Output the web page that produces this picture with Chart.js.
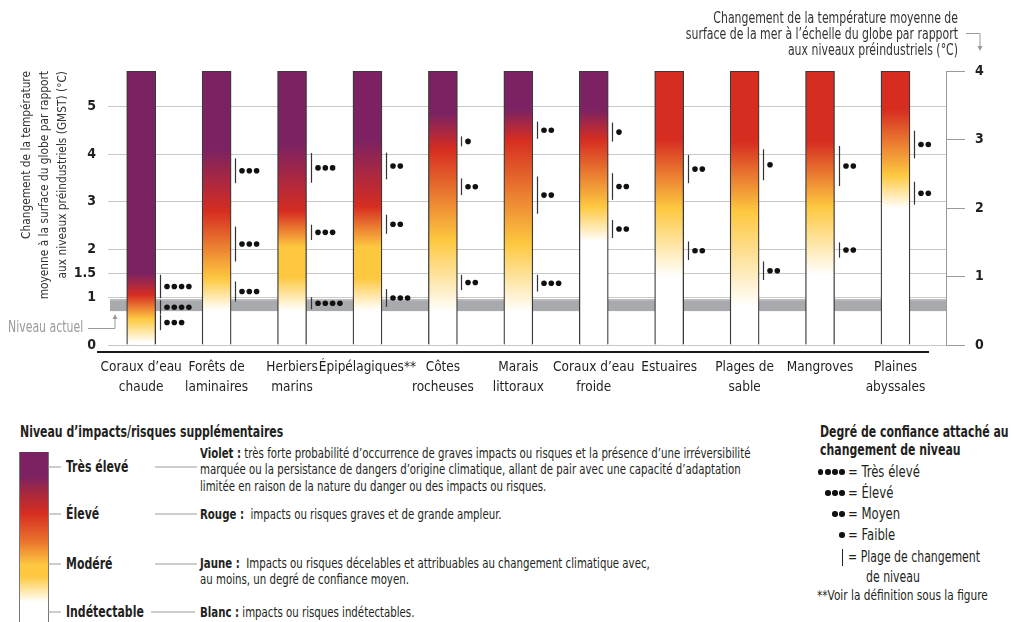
<!DOCTYPE html>
<html>
<head>
<meta charset="utf-8">
<script src="https://cdn.jsdelivr.net/npm/chart.js@4"></script>
<style>
html,body{margin:0;padding:0;background:#fff;}
body{width:1015px;height:622px;position:relative;overflow:hidden;font-family:"DejaVu Sans Condensed","DejaVu Sans",sans-serif;color:#231f20;}
#wrap{position:absolute;left:0;top:0;width:1015px;height:410px;}
.abs{position:absolute;white-space:nowrap;}
.cx{transform:scaleX(0.81);transform-origin:0 50%;}
.cxr{transform:scaleX(0.81);transform-origin:100% 50%;}
.b{font-weight:bold;}
.lvl{font-size:15px;line-height:18px;font-weight:bold;left:66px;}
.desc{font-size:14px;line-height:16.5px;left:200px;}
.row{position:absolute;left:800px;height:20px;line-height:20px;font-size:16px;display:flex;align-items:center;white-space:nowrap;}
.dots{width:45px;display:flex;justify-content:flex-end;gap:1.6px;}
.dot{width:5.6px;height:5.6px;border-radius:50%;background:#111;display:inline-block;}
.rt{display:inline-block;margin-left:3px;transform:scaleX(0.81);transform-origin:0 50%;}
#svg{position:absolute;left:0;top:0;pointer-events:none;}
</style>
</head>
<body>
<div id="wrap"><canvas id="c" width="1015" height="410"></canvas></div>

<!-- right axis title -->
<div class="abs cxr" style="right:57px;top:10px;font-size:15px;line-height:16px;text-align:right;color:#333;">Changement de la température moyenne de<br>surface de la mer à l’échelle du globe par rapport<br>aux niveaux préindustriels (°C)</div>
<!-- present-day label -->
<div class="abs cx" style="left:8px;top:318px;font-size:15px;line-height:18px;color:#9a9a9a;">Niveau actuel</div>

<!-- legend : level of impacts -->
<div class="abs b cx" style="left:20px;top:423px;font-size:15px;line-height:18px;">Niveau d’impacts/risques supplémentaires</div>
<div class="abs" style="left:19px;top:452px;width:28px;height:172px;border-left:1px solid #777;border-right:1px solid #777;background:linear-gradient(to bottom,#7c2262 0px,#7c2262 24px,#a5283f 40px,#d62d20 61px,#e8702c 88px,#fdc840 113px,#fdc840 124px,#fff 150px,#fff 172px);"></div>
<div class="abs lvl cx" style="top:458px;">Très élevé</div>
<div class="abs lvl cx" style="top:505px;">Élevé</div>
<div class="abs lvl cx" style="top:555px;">Modéré</div>
<div class="abs lvl cx" style="top:603px;">Indétectable</div>
<div class="abs desc cx" style="top:444.7px;"><b>Violet :</b> très forte probabilité d’occurrence de graves impacts ou risques et la présence d’une irréversibilité<br>marquée ou la persistance de dangers d’origine climatique, allant de pair avec une capacité d’adaptation<br>limitée en raison de la nature du danger ou des impacts ou risques.</div>
<div class="abs desc cx" style="top:505.7px;"><b>Rouge :</b>&nbsp; impacts ou risques graves et de grande ampleur.</div>
<div class="abs desc cx" style="top:554.7px;"><b>Jaune :</b>&nbsp; Impacts ou risques décelables et attribuables au changement climatique avec,<br>au moins, un degré de confiance moyen.</div>
<div class="abs desc cx" style="top:603.7px;"><b>Blanc :</b> impacts ou risques indétectables.</div>

<!-- legend : confidence -->
<div class="abs b cx" style="left:820px;top:423px;font-size:15px;line-height:18px;">Degré de confiance attaché au<br>changement de niveau</div>
<div class="row" style="top:462px;"><span class="dots"><i class="dot"></i><i class="dot"></i><i class="dot"></i><i class="dot"></i></span><span class="rt">= Très élevé</span></div>
<div class="row" style="top:483px;"><span class="dots"><i class="dot"></i><i class="dot"></i><i class="dot"></i></span><span class="rt">= Élevé</span></div>
<div class="row" style="top:504px;"><span class="dots"><i class="dot"></i><i class="dot"></i></span><span class="rt">= Moyen</span></div>
<div class="row" style="top:525px;"><span class="dots"><i class="dot"></i></span><span class="rt">= Faible</span></div>
<div class="row" style="top:547px;font-size:15px;"><span class="dots"><i style="display:inline-block;width:1.2px;height:17px;background:#222;margin-right:2px;"></i></span><span class="rt">= Plage de changement</span></div>
<div class="abs cx" style="left:866px;top:568px;font-size:15px;line-height:18px;">de niveau</div>
<div class="abs cx" style="left:817px;top:586px;font-size:14.5px;line-height:18px;">**Voir la définition sous la figure</div>

<svg id="svg" width="1015" height="622">
  <g stroke="#9a9a9a" stroke-width="1" fill="none">
    <polyline points="88,328.5 115,328.5 115,318"/>
    <polyline points="966,33.5 980,33.5 980,47"/>
    <line x1="48" y1="467" x2="61" y2="467"/>
    <line x1="48" y1="514" x2="61" y2="514"/>
    <line x1="48" y1="564" x2="61" y2="564"/>
    <line x1="48" y1="612" x2="61" y2="612"/>
    <line x1="155" y1="467" x2="197" y2="467"/>
    <line x1="155" y1="514" x2="197" y2="514"/>
    <line x1="155" y1="564" x2="197" y2="564"/>
    <line x1="151" y1="612" x2="195" y2="612"/>
  </g>
  <g fill="#9a9a9a">
    <polygon points="112.5,319 117.5,319 115,314"/>
    <polygon points="977.5,46 982.5,46 980,51"/>
  </g>
</svg>

<script>
// ---------------- data ----------------
const categories = [
  ['Coraux d’eau', 'chaude'], ['Forêts de', 'laminaires'], ['Herbiers', 'marins'],
  ['Épipélagiques**'], ['Côtes', 'rocheuses'], ['Marais', 'littoraux'],
  ['Coraux d’eau', 'froide'], ['Estuaires'], ['Plages de', 'sable'],
  ['Mangroves'], ['Plaines', 'abyssales']
];
const leftTicks  = [0, 1, 1.5, 2, 3, 4, 5];      // GMST (°C)
const rightTicks = [0, 1, 2, 3, 4];              // SST (°C)
const gmstMax = 5.74;                            // GMST equivalent of SST = 4 °C
const sstMax = 4;
const emberTop = [5.74, 5.74, 5.74, 5.74, 5.74, 5.74, 5.74, 5.74, 5.74, 5.74, 5.74];
const niveauActuel = [0.71, 0.96];

// colour levels of each ember (GMST °C)
const whiteLevel  = [0.05, 0.73, 0.72, 0.73, 0.70, 0.70, 2.17, 1.43, 0.80, 1.47, 2.87];
const yellowLow   = [0.55, 1.40, 1.43, 1.40, 2.20, 2.13, 2.90, 2.87, 2.80, 2.90, 3.56];
const yellowHigh  = [0.55, 1.40, 2.06, 2.06, 2.20, 2.13, 2.90, 2.87, 2.80, 2.90, 3.56];
const redLevel    = [1.05, 2.80, 2.80, 2.90, 4.10, 4.30, 4.30, 4.30, 4.26, 4.26, 4.93];
const purpleLevel = [1.50, 4.10, 4.20, 4.30, 4.85, 4.93, 4.93, null, null, null, null];

// transitions : range + confidence (number of dots)
const trans1From = [0.31, 0.91, 0.75, 0.80, 1.15, 1.12, 2.24, 1.78, 1.36, 1.83, 2.94];
const trans1To   = [0.63, 1.33, 1.00, 1.17, 1.47, 1.47, 2.62, 2.17, 1.75, 2.15, 3.42];
const trans1Conf = [3, 3, 4, 3, 2, 3, 2, 2, 2, 2, 2];
const trans2From = [0.64, 1.75, 2.20, 2.33, 3.14, 2.75, 3.04, 3.39, 3.45, 3.33, 3.91];
const trans2To   = [0.94, 2.48, 2.52, 2.73, 3.49, 3.53, 3.60, 3.98, 4.10, 4.17, 4.49];
const trans2Conf = [4, 3, 3, 2, 2, 2, 2, 2, 1, 2, 2];
const trans3From = [0.98, 3.39, 3.40, 3.47, 4.16, 4.32, 4.26, null, null, null, null];
const trans3To   = [1.47, 3.91, 4.02, 4.03, 4.37, 4.68, 4.66, null, null, null, null];
const trans3Conf = [4, 3, 3, 2, 1, 2, 1, null, null, null, null];

// ---------------- style ----------------
const FONT = '"DejaVu Sans Condensed","DejaVu Sans",sans-serif';
const WHITE = '#ffffff', YELLOW = '#fdc840', RED = '#d62d20', PURPLE = '#7c2262';

function emberFill(c) {
  if (c.type !== 'data') return WHITE;
  const chart = c.chart, y = chart.scales.yL;
  if (!y) return WHITE;
  const i = c.dataIndex, top = emberTop[i];
  const y0 = y.getPixelForValue(0), y1 = y.getPixelForValue(top);
  if (!isFinite(y0) || !isFinite(y1) || y0 === y1) return WHITE;
  const g = chart.ctx.createLinearGradient(0, y0, 0, y1);
  const f = v => Math.min(1, Math.max(0, v / top));
  g.addColorStop(0, WHITE);
  g.addColorStop(f(whiteLevel[i]), WHITE);
  g.addColorStop(f(yellowLow[i]), YELLOW);
  g.addColorStop(f(yellowHigh[i]), YELLOW);
  g.addColorStop(f(redLevel[i]), RED);
  if (purpleLevel[i] != null) { g.addColorStop(f(purpleLevel[i]), PURPLE); g.addColorStop(1, PURPLE); }
  else g.addColorStop(1, RED);
  return g;
}

const embersPlugin = {
  id: 'embers',
  beforeDatasetsDraw(chart) {
    const {ctx, chartArea, scales: {yL}} = chart;
    const yA = yL.getPixelForValue(niveauActuel[1]), yB = yL.getPixelForValue(niveauActuel[0]);
    ctx.save();
    ctx.fillStyle = '#a9aaad';
    ctx.fillRect(chartArea.left + 2, yA, chartArea.right - chartArea.left - 2, yB - yA);
    ctx.fillStyle = '#bdbec0';
    ctx.fillRect(chartArea.left + 2, yA, chartArea.right - chartArea.left - 2, 1.5);
    ctx.restore();
  },
  afterDatasetsDraw(chart) {
    const {ctx, chartArea, scales: {yL}} = chart;
    ctx.save();
    ctx.strokeStyle = '#1a1a1a'; ctx.lineWidth = 2;
    ctx.beginPath();
    ctx.moveTo(chartArea.left - 11, chartArea.bottom + 7);
    ctx.lineTo(chartArea.right - 17, chartArea.bottom + 7);
    ctx.stroke();
    const groups = [[trans1From, trans1To, trans1Conf], [trans2From, trans2To, trans2Conf], [trans3From, trans3To, trans3Conf]];
    const meta = chart.getDatasetMeta(0);
    meta.data.forEach((bar, i) => {
      const lx = Math.round(bar.x + bar.width / 2) + 4.5;
      groups.forEach(([fr, to, cf]) => {
        if (fr[i] == null) return;
        const ya = yL.getPixelForValue(fr[i]), yb = yL.getPixelForValue(to[i]);
        ctx.strokeStyle = '#333'; ctx.lineWidth = 1.2;
        ctx.beginPath(); ctx.moveTo(lx, ya); ctx.lineTo(lx, yb); ctx.stroke();
        const ym = (ya + yb) / 2;
        ctx.fillStyle = '#111';
        for (let k = 0; k < cf[i]; k++) {
          ctx.beginPath(); ctx.arc(lx + 6.5 + k * 7.3, ym, 2.8, 0, Math.PI * 2); ctx.fill();
        }
      });
    });
    ctx.restore();
  }
};

new Chart(document.getElementById('c'), {
  type: 'bar',
  data: {
    datasets: [{
      data: emberTop.map((v, i) => ({x: i, y: v})),
      yAxisID: 'yL',
      backgroundColor: emberFill,
      borderColor: '#3a3a3a',
      borderWidth: 1.3,
      barThickness: 29
    }]
  },
  options: {
    responsive: false,
    animation: false,
    layout: {padding: {top: 71, left: 0, right: 0, bottom: 0}},
    plugins: {legend: {display: false}, tooltip: {enabled: false}},
    scales: {
      x: {
        type: 'linear', min: -0.44, max: 10.67, offset: false, bounds: 'data',
        grid: {display: false, drawTicks: false, offset: false}, border: {display: false},
        afterBuildTicks: s => { s.ticks = categories.map((_, i) => ({value: i})); },
        afterFit: s => { s.height = 65; },
        ticks: {autoSkip: false, maxRotation: 0, minRotation: 0, padding: 13,
          callback: v => categories[v], color: '#231f20',
          font: {family: FONT, size: 13.5, lineHeight: 1.48}}
      },
      yL: {
        type: 'linear', position: 'left', min: 0, max: gmstMax,
        afterBuildTicks: s => { s.ticks = leftTicks.map(v => ({value: v})); },
        afterFit: s => { s.width = 108; },
        grid: {color: '#c8c8c8', lineWidth: 1, drawTicks: false},
        border: {display: false},
        ticks: {padding: 12, color: '#231f20', font: {family: FONT, size: 14, weight: 'bold'}, callback: v => String(v)},
        title: {display: true, align: 'end', color: '#333',
          text: ['Changement de la température', 'moyenne à la surface du globe par rapport', 'aux niveaux préindustriels (GMST) (°C)'],
          font: {family: FONT, size: 11.8, lineHeight: 1.525}, padding: {top: 18, bottom: 0}}
      },
      yR: {
        type: 'linear', position: 'right', min: 0, max: sstMax,
        afterBuildTicks: s => { s.ticks = rightTicks.map(v => ({value: v})); },
        afterFit: s => { s.width = 69; },
        grid: {drawOnChartArea: false, color: '#9a9a9a', tickLength: 19, lineWidth: 1},
        border: {display: true, color: '#9a9a9a', width: 1},
        ticks: {padding: 10, color: '#231f20', font: {family: FONT, size: 14, weight: 'bold'}}
      }
    }
  },
  plugins: [embersPlugin]
});
</script>
</body>
</html>
